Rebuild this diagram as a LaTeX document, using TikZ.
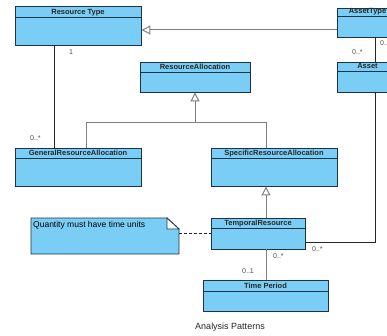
\documentclass[tikz,border=0pt]{standalone}
\usepackage{fontspec}
\setmainfont{Liberation Sans}
\usetikzlibrary{fit,arrows.meta}
\definecolor{clsfill}{RGB}{122,206,245}
\definecolor{clsdraw}{RGB}{30,50,70}
\definecolor{genline}{RGB}{128,128,128}
\tikzset{
  clsbox/.style={draw=clsdraw, fill=clsfill, line width=0.9pt, inner sep=0pt},
  hdr/.style={font=\fontsize{7.5}{8}\selectfont\bfseries, text=black!85, inner sep=0pt, anchor=base},
  lbl/.style={font=\fontsize{7}{8}\selectfont, text=black!70, inner sep=0pt},
  assoc/.style={draw=black!85, line width=0.8pt},
  gen/.style={draw=genline, line width=1pt},
  genarrow/.style={gen, -{Triangle[open, width=9pt, length=9pt, fill=white, line width=1pt]}},
}
\newcommand{\umlcls}[7]{%
  \node[clsbox, fit={(#2,#3) (#4,#5)}] (#1) {};
  \draw[draw=clsdraw, line width=0.8pt] ([yshift=-#6pt]#1.north west) -- ([yshift=-#6pt]#1.north east);
  \node[hdr] at ([yshift=-#6pt+2.6pt]#1.north) {#7};
}
\begin{document}
\begin{tikzpicture}[x=1pt,y=-1pt]
\useasboundingbox (0,0) rectangle (387,336);
\clip (0,0) rectangle (387,336);
\fill[white] (0,0) rectangle (387,336);
% classes
\umlcls{rt}{15}{6}{141}{45}{12}{Resource Type}
\umlcls{at}{337}{8}{398}{37}{9}{AssetType}
\umlcls{as}{337}{62}{398}{92}{10}{Asset}
\umlcls{ra}{140}{62}{250}{92}{11}{ResourceAllocation}
\umlcls{gra}{15}{148}{141}{186}{11}{GeneralResourceAllocation}
\umlcls{sra}{211}{148}{337}{186}{11}{SpecificResourceAllocation}
\umlcls{tr}{211}{218}{305}{249}{11}{TemporalResource}
\umlcls{tp}{203}{280}{328}{311}{12}{Time Period}
% note
\coordinate (nfa) at (167,218);
\coordinate (nfb) at (179,229);
\path[fill=clsfill, draw=clsdraw, line width=0.8pt] (31,218) -- (nfa) -- (nfb) -- (179,254) -- (31,254) -- cycle;
\path[fill=white, draw=clsdraw, line width=0.8pt] (nfa) -- (nfb) -- (167,229) -- cycle;
\node[font=\fontsize{8.5}{9}\selectfont, anchor=north west, inner sep=0pt] (note) at (33,221) {Quantity must have time units};
\coordinate (noteR) at (179,233);
% generalizations
\draw[genarrow] (at.west |- 0,30) -- (rt.east |- 0,30);
\coordinate (g1) at (86,123);
\coordinate (g2) at (266,123);
\draw[gen] (gra.north -| g1) -- (g1) -- (g2) -- (sra.north -| g2);
\draw[genarrow] (ra.south |- g1) -- (ra.south);
\draw[genarrow] (tr.north -| 266,0) -- (sra.south -| 266,0);
% associations
\draw[assoc] (rt.south -| 54,0) -- (gra.north -| 54,0);
\node[lbl, anchor=west] at (69,52) {1};
\node[lbl, anchor=west] at (30,138) {0..*};
\draw[assoc] (at.south -| 375,0) -- (as.north -| 375,0);
\node[lbl, anchor=west] at (352,52) {0..*};
\node[lbl, anchor=west] at (380,43) {0..*};
\coordinate (c1) at (375,242);
\draw[assoc] (as.south -| c1) -- (c1) -- (tr.east |- c1);
\node[lbl, anchor=west] at (312,249) {0..*};
\draw[gen] (tr.south -| 266,0) -- (tp.north -| 266,0);
\node[lbl, anchor=west] at (273,256) {0..*};
\node[lbl, anchor=west] at (242,271) {0..1};
\draw[assoc, dashed, dash pattern=on 3pt off 2pt] (noteR) -- (tr.west |- noteR);
% caption
\node[font=\fontsize{9}{10}\selectfont, text=black!85] (cap) at (230,327) {Analysis Patterns};
\end{tikzpicture}
\end{document}
